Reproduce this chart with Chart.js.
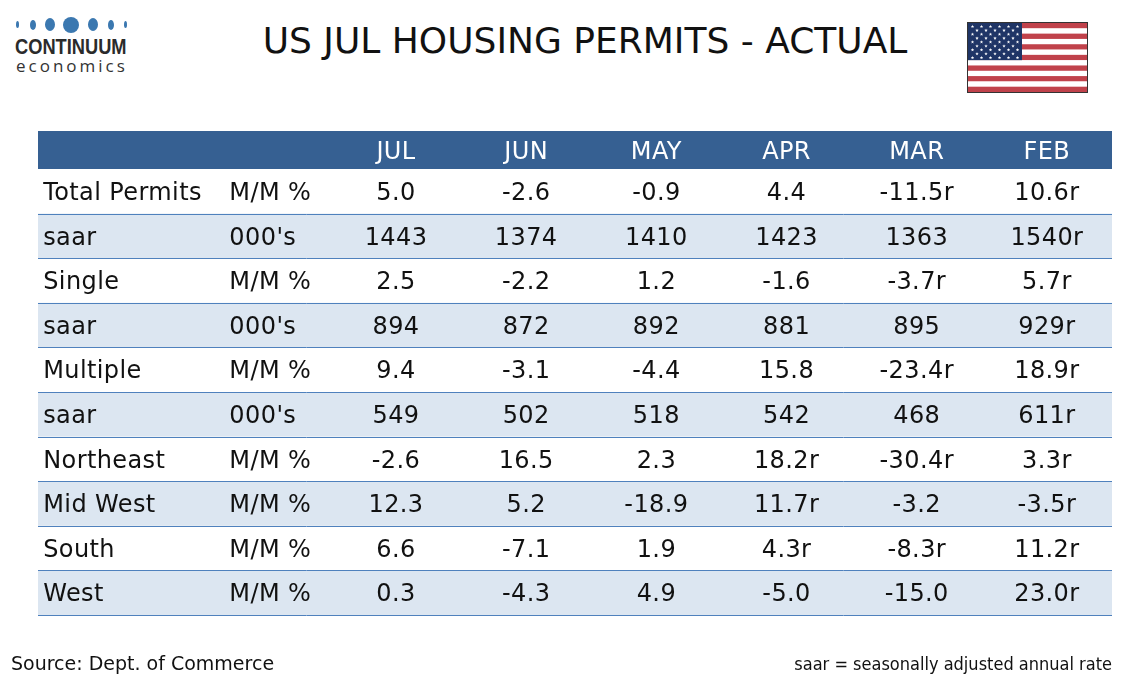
<!DOCTYPE html>
<html>
<head>
<meta charset="utf-8">
<script src="https://cdn.jsdelivr.net/npm/chart.js@4"></script>
<style>
  body { margin: 0; background: #fff; width: 1134px; height: 680px; position: relative; overflow: hidden; }
  #tbl { position: absolute; left: 0; top: 0; }
  .title { position: absolute; top: 20px; left: 0; width: 1170px; text-align: center; font: 36px "DejaVu Sans", Verdana, sans-serif; color: #111; }
  .dot { position: absolute; background: #3b78b0; border-radius: 50%; }
  .brand { position: absolute; left: 15px; top: 34px; font: bold 22px "Liberation Sans", sans-serif; color: #2b2b2b; transform: scaleX(0.83); transform-origin: left top; white-space: nowrap; }
  .sub { position: absolute; left: 16px; top: 54px; font: 17px "Open Sans", sans-serif; color: #333; letter-spacing: 3px; }
  #flag { position: absolute; left: 967px; top: 22px; }
  .src { position: absolute; left: 11px; top: 652px; font: 19px "DejaVu Sans", Verdana, sans-serif; color: #111; }
  .note { position: absolute; right: 22px; top: 653px; font: 18px "DejaVu Sans Condensed", Tahoma, sans-serif; color: #111; }
</style>
</head>
<body>
<div class="dot" style="left:16px;top:21px;width:3px;height:7px"></div>
<div class="dot" style="left:30px;top:20px;width:6px;height:10px"></div>
<div class="dot" style="left:45px;top:18px;width:10px;height:13px"></div>
<div class="dot" style="left:63px;top:17px;width:16px;height:16px"></div>
<div class="dot" style="left:88px;top:18px;width:10px;height:13px"></div>
<div class="dot" style="left:108px;top:20px;width:6px;height:10px"></div>
<div class="dot" style="left:124px;top:21px;width:3px;height:7px"></div>
<div class="brand">CONTINUUM</div>
<div class="sub">economics</div>
<div class="title">US JUL HOUSING PERMITS - ACTUAL</div>
<canvas id="flag" width="121" height="71"></canvas>
<canvas id="tbl" width="1134" height="680"></canvas>
<div class="src">Source: Dept. of Commerce</div>
<div class="note">saar = seasonally adjusted annual rate</div>
<script>
// table content
const months = ["JUL", "JUN", "MAY", "APR", "MAR", "FEB"];
const rowLabels = ["Total Permits", "saar", "Single", "saar", "Multiple", "saar", "Northeast", "Mid West", "South", "West"];
const rowUnits = ["M/M %", "000's", "M/M %", "000's", "M/M %", "000's", "M/M %", "M/M %", "M/M %", "M/M %"];
const totalMM = ["5.0", "-2.6", "-0.9", "4.4", "-11.5r", "10.6r"];
const totalSaar = ["1443", "1374", "1410", "1423", "1363", "1540r"];
const singleMM = ["2.5", "-2.2", "1.2", "-1.6", "-3.7r", "5.7r"];
const singleSaar = ["894", "872", "892", "881", "895", "929r"];
const multiMM = ["9.4", "-3.1", "-4.4", "15.8", "-23.4r", "18.9r"];
const multiSaar = ["549", "502", "518", "542", "468", "611r"];
const northeast = ["-2.6", "16.5", "2.3", "18.2r", "-30.4r", "3.3r"];
const midwest = ["12.3", "5.2", "-18.9", "11.7r", "-3.2", "-3.5r"];
const south = ["6.6", "-7.1", "1.9", "4.3r", "-8.3r", "11.2r"];
const west = ["0.3", "-4.3", "4.9", "-5.0", "-15.0", "23.0r"];
const rowValues = [totalMM, totalSaar, singleMM, singleSaar, multiMM, multiSaar, northeast, midwest, south, west];

// column anchors in x-scale units (months sit at 0..5)
const LABEL_X = -2.71;
const UNIT_X = -1.28;
const HEADER_TOP = -0.852;

const cells = [];
rowValues.forEach((vals, r) => vals.forEach((v, c) => cells.push({ x: c, y: r + 0.5, text: v })));

const FONT = '24px "DejaVu Sans", Verdana, sans-serif';

function setFont(ctx) {
  ctx.font = FONT;
  ctx.letterSpacing = "0.4px";
  ctx.textBaseline = "middle";
}

const tablePlugin = {
  id: "tablePlugin",
  beforeDatasetsDraw(chart) {
    const { ctx, chartArea: a, scales: { x, y } } = chart;
    ctx.save();
    // header band
    const hTop = y.getPixelForValue(HEADER_TOP);
    const hBot = y.getPixelForValue(0);
    ctx.fillStyle = "#366092";
    ctx.fillRect(a.left, hTop, a.right - a.left, hBot - hTop);
    // striped rows
    rowLabels.forEach((_, r) => {
      const t = y.getPixelForValue(r);
      const b = y.getPixelForValue(r + 1);
      if (r % 2 === 1) {
        ctx.fillStyle = "#dce6f1";
        ctx.fillRect(a.left, t, a.right - a.left, b - t);
      }
    });
    // row rules
    ctx.strokeStyle = "#4f81bd";
    ctx.lineWidth = 1;
    for (let r = 1; r <= rowLabels.length; r++) {
      const py = Math.round(y.getPixelForValue(r)) + 0.5;
      ctx.beginPath();
      ctx.moveTo(a.left, py);
      ctx.lineTo(a.right, py);
      ctx.stroke();
    }
    // header text
    setFont(ctx);
    ctx.fillStyle = "#fff";
    ctx.textAlign = "center";
    months.forEach((m, i) => ctx.fillText(m, x.getPixelForValue(i), (hTop + hBot) / 2 + 3));
    // row captions
    ctx.fillStyle = "#111";
    ctx.textAlign = "left";
    rowLabels.forEach((lab, r) => {
      const py = y.getPixelForValue(r + 0.5) + 2.5;
      ctx.fillText(lab, x.getPixelForValue(LABEL_X), py);
      ctx.fillText(rowUnits[r], x.getPixelForValue(UNIT_X), py);
    });
    ctx.restore();
  },
  afterDatasetsDraw(chart) {
    const { ctx } = chart;
    const meta = chart.getDatasetMeta(0);
    ctx.save();
    setFont(ctx);
    ctx.fillStyle = "#111";
    ctx.textAlign = "center";
    meta.data.forEach((pt, i) => ctx.fillText(cells[i].text, pt.x, pt.y + 2.5));
    ctx.restore();
  },
};

new Chart(document.getElementById("tbl"), {
  type: "scatter",
  data: { datasets: [{ data: cells, pointRadius: 0, pointHoverRadius: 0 }] },
  options: {
    responsive: false,
    animation: false,
    devicePixelRatio: 1,
    layout: { padding: { left: 38, right: 22, top: 131, bottom: 65 } },
    plugins: { legend: { display: false }, tooltip: { enabled: false } },
    events: [],
    scales: {
      x: { type: "linear", min: -2.75, max: 5.5, display: false },
      y: { type: "linear", min: HEADER_TOP, max: 10, reverse: true, display: false },
    },
  },
  plugins: [tablePlugin],
});

// flag
(function () {
  const c = document.getElementById("flag").getContext("2d");
  const W = 119, H = 69, ox = 1, oy = 1;
  const sh = H / 13;
  for (let i = 0; i < 13; i++) {
    c.fillStyle = i % 2 === 0 ? "#c0424b" : "#fff";
    c.fillRect(ox, oy + i * sh, W, sh + 0.3);
  }
  const cw = 54, chh = sh * 7;
  c.fillStyle = "#1f3566";
  c.fillRect(ox, oy, cw, chh);
  c.fillStyle = "#fff";
  for (let r = 0; r < 9; r++) {
    const n = r % 2 === 0 ? 6 : 5;
    for (let k = 0; k < n; k++) {
      const sx = ox + (r % 2 === 0 ? 4.5 : 9) + k * 9;
      const sy = oy + 3.5 + r * 3.9;
      c.beginPath();
      for (let p = 0; p < 10; p++) {
        const rad = p % 2 === 0 ? 1.8 : 0.75;
        const ang = -Math.PI / 2 + p * Math.PI / 5;
        c.lineTo(sx + rad * Math.cos(ang), sy + rad * Math.sin(ang));
      }
      c.closePath();
      c.fill();
    }
  }
  c.strokeStyle = "#333";
  c.lineWidth = 1;
  c.strokeRect(ox - 0.5, oy - 0.5, W + 1, H + 1);
})();
</script>
</body>
</html>
